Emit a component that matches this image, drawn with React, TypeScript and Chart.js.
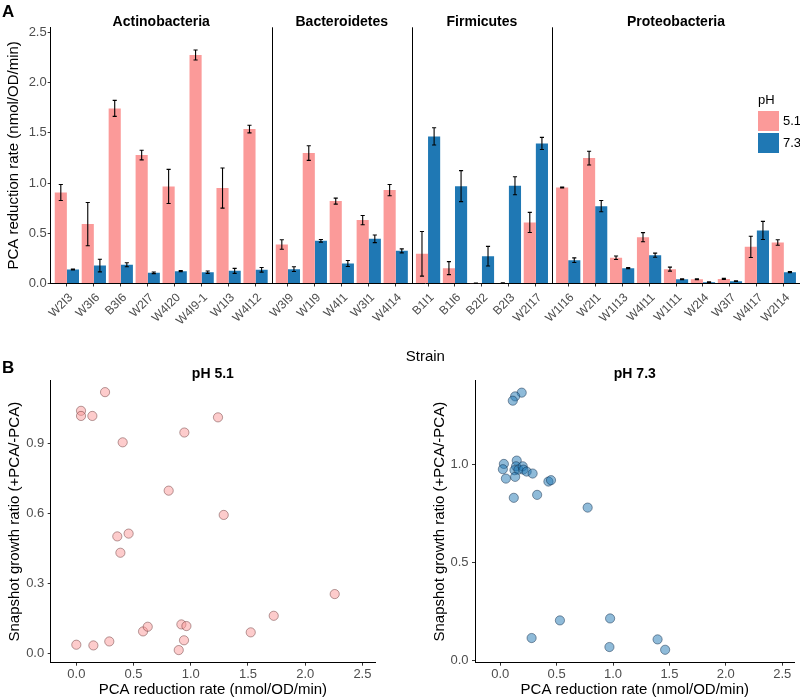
import React, { useEffect, useRef } from 'react';
import { Chart, registerables } from 'chart.js';

Chart.register(...registerables);

const FONT = '"Liberation Sans", Arial, Helvetica, sans-serif';
Chart.defaults.font.family = FONT;

// ---------- Panel A data ----------
const phyla = ['Actinobacteria', 'Bacteroidetes', 'Firmicutes', 'Proteobacteria'];
const phylumSizes = [8, 5, 5, 9];
const strains = [
  'W2I3', 'W3I6', 'B3I6', 'W2I7', 'W4I20', 'W4I9-1', 'W1I3', 'W4I12',
  'W3I9', 'W1I9', 'W4I1', 'W3I1', 'W4I14',
  'B1I1', 'B1I6', 'B2I2', 'B2I3', 'W2I17',
  'W1I16', 'W2I1', 'W1I13', 'W4I11', 'W1I11', 'W2I4', 'W3I7', 'W4I17', 'W2I14',
];
const rate51 = [
  0.906, 0.591, 1.743, 1.278, 0.966, 2.274, 0.95, 1.537,
  0.388, 1.298, 0.82, 0.631, 0.93,
  0.295, 0.153, 0.003, 0.005, 0.608,
  0.956, 1.248, 0.256, 0.461, 0.143, 0.043, 0.046, 0.365, 0.408,
];
const err51 = [
  0.08, 0.215, 0.08, 0.048, 0.17, 0.05, 0.2, 0.038,
  0.047, 0.073, 0.03, 0.046, 0.056,
  0.222, 0.065, 0.002, 0.003, 0.1,
  0.005, 0.068, 0.017, 0.045, 0.02, 0.004, 0.005, 0.106, 0.027,
];
const rate73 = [
  0.139, 0.179, 0.186, 0.106, 0.123, 0.113, 0.126, 0.136,
  0.143, 0.425, 0.199, 0.445, 0.325,
  1.464, 0.969, 0.272, 0.973, 1.394,
  0.232, 0.77, 0.153, 0.282, 0.043, 0.013, 0.023, 0.528, 0.113,
];
const err73 = [
  0.005, 0.063, 0.02, 0.008, 0.005, 0.012, 0.025, 0.023,
  0.023, 0.013, 0.03, 0.038, 0.02,
  0.086, 0.154, 0.098, 0.09, 0.06,
  0.023, 0.056, 0.005, 0.02, 0.005, 0.003, 0.003, 0.09, 0.005,
];
const rateTicks = [0, 0.5, 1.0, 1.5, 2.0, 2.5];
const phLevels = ['5.1', '7.3'];
const PINK = '#FB9A99';
const BLUE = '#1F78B4';

// ---------- Panel B data ----------
const ph51Rate = [0.041, 0.041, 0.14, 0.251, 0.405, 1.238, 0.944, 0.807, 1.288, 0.358, 0.457, 0.385, 2.258, 1.725, 1.524, 0.0, 0.149, 0.288, 0.583, 0.624, 0.918, 0.962, 0.941, 0.895];
const ph51Ratio = [1.039, 1.017, 1.017, 1.119, 0.904, 1.011, 0.946, 0.697, 0.593, 0.501, 0.513, 0.431, 0.254, 0.161, 0.09, 0.037, 0.034, 0.051, 0.094, 0.114, 0.124, 0.117, 0.056, 0.014];
const ph73Rate = [0.19, 0.132, 0.111, 0.032, 0.023, 0.05, 0.146, 0.14, 0.126, 0.132, 0.161, 0.199, 0.205, 0.234, 0.287, 0.12, 0.327, 0.427, 0.45, 0.775, 0.278, 0.529, 0.974, 0.968, 1.395, 1.462];
const ph73Ratio = [1.369, 1.35, 1.328, 1.005, 0.978, 0.93, 1.022, 0.993, 0.973, 0.939, 0.976, 0.993, 0.976, 0.966, 0.956, 0.832, 0.847, 0.915, 0.922, 0.782, 0.116, 0.206, 0.216, 0.07, 0.109, 0.056];
const scatterXTicks = [0, 0.5, 1.0, 1.5, 2.0, 2.5];
const ph51YTicks = [0, 0.3, 0.6, 0.9];
const ph73YTicks = [0, 0.5, 1.0];

// ---------- facet layout (ggplot discrete expansion 0.6 per side) ----------
const EXPAND = 0.6;
const positions: number[] = [];
const facetEdges: number[] = [0];
{
  let cum = 0;
  phylumSizes.forEach((n) => {
    for (let i = 0; i < n; i++) positions.push(cum + EXPAND + i);
    cum += n - 1 + 2 * EXPAND;
    facetEdges.push(cum);
  });
}
const xTotal = facetEdges[facetEdges.length - 1];

const TICK_COLOR = '#333333';
const LABEL_COLOR = '#4D4D4D';

const errorBarPlugin = {
  id: 'errorBars',
  afterDatasetsDraw(chart: any) {
    const { ctx } = chart;
    const yScale = chart.scales.y;
    const errs = [err51, err73];
    const vals = [rate51, rate73];
    ctx.save();
    ctx.strokeStyle = '#000';
    ctx.lineWidth = 1.1;
    chart.data.datasets.forEach((_ds: any, di: number) => {
      const meta = chart.getDatasetMeta(di);
      meta.data.forEach((bar: any, i: number) => {
        const v = vals[di][i];
        const e = errs[di][i];
        const x = bar.x;
        const yTop = yScale.getPixelForValue(v + e);
        const yBot = yScale.getPixelForValue(Math.max(0, v - e));
        const cap = bar.width * 0.17;
        ctx.beginPath();
        ctx.moveTo(x, yTop);
        ctx.lineTo(x, yBot);
        ctx.moveTo(x - cap, yTop);
        ctx.lineTo(x + cap, yTop);
        ctx.moveTo(x - cap, yBot);
        ctx.lineTo(x + cap, yBot);
        ctx.stroke();
      });
    });
    ctx.restore();
  },
};

const facetPlugin = {
  id: 'facets',
  afterDraw(chart: any) {
    const { ctx, chartArea } = chart;
    const xs = chart.scales.x;
    ctx.save();
    ctx.strokeStyle = '#000';
    ctx.lineWidth = 1;
    for (let k = 1; k < facetEdges.length - 1; k++) {
      const px = Math.round(xs.getPixelForValue(facetEdges[k])) + 0.5;
      ctx.beginPath();
      ctx.moveTo(px, chartArea.top);
      ctx.lineTo(px, chartArea.bottom);
      ctx.stroke();
    }
    ctx.fillStyle = '#000';
    ctx.font = `bold 14px ${FONT}`;
    ctx.textAlign = 'center';
    ctx.textBaseline = 'alphabetic';
    phyla.forEach((name, k) => {
      const cx = (xs.getPixelForValue(facetEdges[k]) + xs.getPixelForValue(facetEdges[k + 1])) / 2;
      ctx.fillText(name, cx, chartArea.top - 1);
    });
    ctx.restore();
  },
};

function makeTitlePlugin(text: string) {
  return {
    id: 'panelTitle',
    afterDraw(chart: any) {
      const { ctx, chartArea } = chart;
      ctx.save();
      ctx.fillStyle = '#000';
      ctx.font = `bold 14px ${FONT}`;
      ctx.textAlign = 'center';
      ctx.textBaseline = 'alphabetic';
      ctx.fillText(text, (chartArea.left + chartArea.right) / 2, chartArea.top - 2.5);
      ctx.restore();
    },
  };
}

function axisCommon() {
  return {
    grid: { display: true, drawOnChartArea: false, drawTicks: true, tickLength: 3, color: TICK_COLOR, offset: false },
    border: { display: true, color: '#000', width: 1 },
  };
}

function BarPanel() {
  const ref = useRef<HTMLCanvasElement>(null);
  useEffect(() => {
    const chart = new Chart(ref.current as HTMLCanvasElement, {
      type: 'bar',
      data: {
        datasets: [
          {
            label: phLevels[0],
            data: positions.map((x, i) => ({ x, y: rate51[i] })),
            backgroundColor: PINK,
            borderWidth: 0,
            categoryPercentage: 0.9,
            barPercentage: 1,
          },
          {
            label: phLevels[1],
            data: positions.map((x, i) => ({ x, y: rate73[i] })),
            backgroundColor: BLUE,
            borderWidth: 0,
            categoryPercentage: 0.9,
            barPercentage: 1,
          },
        ],
      },
      options: {
        responsive: false,
        animation: false,
        layout: { padding: { top: 27.3, left: 0, right: 0, bottom: 0 } },
        plugins: { legend: { display: false }, tooltip: { enabled: false } },
        scales: {
          x: {
            type: 'linear',
            min: 0,
            max: xTotal,
            offset: false,
            ...axisCommon(),
            ticks: {
              autoSkip: false,
              minRotation: 45,
              maxRotation: 45,
              padding: 4,
              labelOffset: 4,
              color: LABEL_COLOR,
              font: { size: 12, family: FONT },
              callback: (v: any) => {
                const i = positions.findIndex((p) => Math.abs(p - v) < 1e-6);
                return i >= 0 ? strains[i] : '';
              },
            },
            afterBuildTicks: (s: any) => {
              s.ticks = positions.map((v) => ({ value: v }));
            },
            afterFit: (s: any) => {
              s.height = 86.5;
            },
            title: { display: true, text: 'Strain', color: '#000', font: { size: 15, family: FONT }, padding: { top: 0, bottom: 4 } },
          },
          y: {
            type: 'linear',
            min: 0,
            max: 2.55,
            ...axisCommon(),
            ticks: {
              padding: 1,
              color: LABEL_COLOR,
              font: { size: 13, family: FONT },
              callback: (v: any) => Number(v).toFixed(1),
            },
            afterBuildTicks: (s: any) => {
              s.ticks = rateTicks.map((v) => ({ value: v }));
            },
            afterFit: (s: any) => {
              s.width = 50.7;
            },
            title: { display: true, text: 'PCA reduction rate (nmol/OD/min)', color: '#000', font: { size: 15, family: FONT }, padding: { top: 5, bottom: 0 } },
          },
        },
      } as any,
      plugins: [errorBarPlugin, facetPlugin],
    });
    return () => chart.destroy();
  }, []);
  return <canvas ref={ref} width={800} height={370} style={{ position: 'absolute', left: 0, top: 0, width: 800, height: 370 }} />;
}

function ScatterPanel(props: {
  xs: number[]; ys: number[]; title: string; yTicks: number[]; yMin: number; yMax: number;
  fill: string; stroke: string; left: number; width: number; padRight: number;
}) {
  const ref = useRef<HTMLCanvasElement>(null);
  useEffect(() => {
    const chart = new Chart(ref.current as HTMLCanvasElement, {
      type: 'scatter',
      data: {
        datasets: [
          {
            label: props.title,
            data: props.xs.map((x, i) => ({ x, y: props.ys[i] })),
            backgroundColor: props.fill,
            borderColor: props.stroke,
            borderWidth: 0.8,
            pointRadius: 4.6,
          },
        ],
      },
      options: {
        responsive: false,
        animation: false,
        layout: { padding: { top: 20.7, left: 0, right: props.padRight, bottom: 0 } },
        plugins: { legend: { display: false }, tooltip: { enabled: false } },
        scales: {
          x: {
            type: 'linear',
            min: -0.224,
            max: 2.61,
            ...axisCommon(),
            ticks: { padding: 1, color: LABEL_COLOR, font: { size: 13, family: FONT }, callback: (v: any) => Number(v).toFixed(1) },
            afterBuildTicks: (s: any) => {
              s.ticks = scatterXTicks.map((v) => ({ value: v }));
            },
            afterFit: (s: any) => {
              s.height = 37.3;
            },
            title: { display: true, text: 'PCA reduction rate (nmol/OD/min)', color: '#000', font: { size: 15, family: FONT }, padding: { top: 0, bottom: 1 } },
          },
          y: {
            type: 'linear',
            min: props.yMin,
            max: props.yMax,
            ...axisCommon(),
            ticks: { padding: 3.5, color: LABEL_COLOR, font: { size: 13, family: FONT }, callback: (v: any) => Number(v).toFixed(1) },
            afterBuildTicks: (s: any) => {
              s.ticks = props.yTicks.map((v) => ({ value: v }));
            },
            afterFit: (s: any) => {
              s.width = props.left === 0 ? 50.7 : 50;
            },
            title: { display: true, text: 'Snapshot growth ratio (+PCA/-PCA)', color: '#000', font: { size: 15, family: FONT }, padding: { top: 6, bottom: 0 } },
          },
        },
      } as any,
      plugins: [makeTitlePlugin(props.title)],
    });
    return () => chart.destroy();
  }, []);
  return (
    <canvas
      ref={ref}
      width={props.width}
      height={340}
      style={{ position: 'absolute', left: props.left, top: 360, width: props.width, height: 340 }}
    />
  );
}

export default function App() {
  const txt = { position: 'absolute' as const, fontFamily: FONT, color: '#000', whiteSpace: 'nowrap' as const };
  return (
    <div style={{ position: 'absolute', left: 0, top: 0, width: 800, height: 700, background: '#fff', overflow: 'hidden' }}>
      <BarPanel />
      <ScatterPanel
        xs={ph51Rate} ys={ph51Ratio} title="pH 5.1" yTicks={ph51YTicks} yMin={-0.04} yMax={1.168}
        fill="rgba(251,154,153,0.5)" stroke="rgba(90,40,40,0.55)" left={0} width={400} padRight={25}
      />
      <ScatterPanel
        xs={ph73Rate} ys={ph73Ratio} title="pH 7.3" yTicks={ph73YTicks} yMin={-0.01} yMax={1.43}
        fill="rgba(31,120,180,0.5)" stroke="rgba(15,40,70,0.6)" left={425} width={375} padRight={0}
      />
      <div style={{ ...txt, left: 2, top: 3, fontSize: 17, lineHeight: '17px', fontWeight: 'bold' }}>A</div>
      <div style={{ ...txt, left: 2, top: 358.6, fontSize: 17, lineHeight: '17px', fontWeight: 'bold' }}>B</div>
      <div style={{ ...txt, left: 758, top: 92.6, fontSize: 13, lineHeight: '13px' }}>pH</div>
      <div style={{ position: 'absolute', left: 758, top: 110.7, width: 21, height: 20, background: PINK }} />
      <div style={{ position: 'absolute', left: 758, top: 132.7, width: 21, height: 20, background: BLUE }} />
      <div style={{ ...txt, left: 783, top: 114.4, fontSize: 13, lineHeight: '13px' }}>{phLevels[0]}</div>
      <div style={{ ...txt, left: 783, top: 136.4, fontSize: 13, lineHeight: '13px' }}>{phLevels[1]}</div>
    </div>
  );
}
